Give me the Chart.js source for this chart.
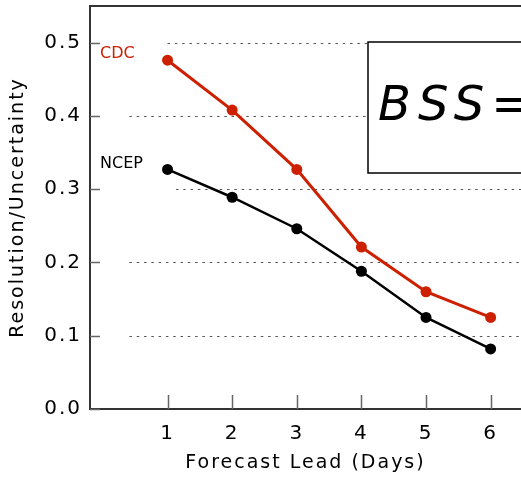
<!DOCTYPE html>
<html>
<head>
<meta charset="utf-8">
<script src="https://cdn.jsdelivr.net/npm/chart.js@4/dist/chart.umd.min.js"></script>
<style>
  html, body { margin: 0; padding: 0; background: #fff; }
  #wrap { width: 521px; height: 477px; position: relative; }
</style>
</head>
<body>
<div id="wrap"><canvas id="chartBss"></canvas></div>
<script>
// ====== DADOS ======
const leadDays = [1, 2, 3, 4, 5, 6];
const cdcValues = [0.476, 0.408, 0.327, 0.221, 0.160, 0.125];
const ncepValues = [0.327, 0.289, 0.246, 0.188, 0.125, 0.082];
const yTicks = [0.0, 0.1, 0.2, 0.3, 0.4, 0.5];
const dashLevels = [0.1, 0.2, 0.3, 0.4, 0.5];
const dashStartDay = [0.41, 0.41, 1.13, 0.41, 1.0]; // onde cada linha pontilhada comeca

const red = "#cc2000";
const axisColor = "#333";

Chart.defaults.font.family = "'DejaVu Sans', sans-serif";
Chart.defaults.color = "#000";

// linhas pontilhadas, ticks internos, moldura de cima, caixa BSS e rotulos
const decorPlugin = {
  id: "decor",
  beforeDraw(chart) {
    chart.ctx.letterSpacing = "2px";
  },
  beforeDatasetsDraw(chart) {
    const { ctx, chartArea, scales } = chart;
    const x = scales.x, y = scales.y;
    ctx.save();
    ctx.strokeStyle = "#555";
    ctx.lineWidth = 1;
    ctx.setLineDash([2.5, 4.8]);
    dashLevels.forEach((v, i) => {
      const py = Math.round(y.getPixelForValue(v)) + 0.5;
      ctx.beginPath();
      ctx.moveTo(x.getPixelForValue(dashStartDay[i]), py);
      ctx.lineTo(chartArea.right, py);
      ctx.stroke();
    });
    ctx.setLineDash([]);

    // ticks para dentro
    ctx.strokeStyle = "#666";
    ctx.lineWidth = 1.5;
    yTicks.forEach((v) => {
      const py = Math.round(y.getPixelForValue(v)) + 0.5;
      ctx.beginPath();
      ctx.moveTo(chartArea.left, py);
      ctx.lineTo(chartArea.left + 10, py);
      ctx.stroke();
    });
    leadDays.forEach((d) => {
      const px = Math.round(x.getPixelForValue(d)) + 0.5;
      ctx.beginPath();
      ctx.moveTo(px, chartArea.bottom);
      ctx.lineTo(px, chartArea.bottom - 14);
      ctx.stroke();
    });

    // moldura de cima
    ctx.strokeStyle = axisColor;
    ctx.lineWidth = 2;
    ctx.beginPath();
    ctx.moveTo(chartArea.left, chartArea.top);
    ctx.lineTo(chartArea.right, chartArea.top);
    ctx.stroke();
    ctx.restore();
  },
  afterDatasetsDraw(chart) {
    const { ctx, chartArea } = chart;
    ctx.save();
    ctx.letterSpacing = "0px";

    // caixa com a formula (cortada na borda)
    ctx.fillStyle = "#fff";
    ctx.strokeStyle = "#000";
    ctx.lineWidth = 1.5;
    ctx.fillRect(368, 42, 170, 131);
    ctx.strokeRect(368, 42, 170, 131);
    ctx.fillStyle = "#000";
    ctx.font = "italic 48px 'DejaVu Sans'";
    ctx.textBaseline = "alphabetic";
    ctx.letterSpacing = "7px";
    ctx.fillText("BSS=", 378, 120);

    // nomes das series
    ctx.letterSpacing = "0px";
    ctx.font = "16px 'DejaVu Sans'";
    ctx.textBaseline = "middle";
    ctx.fillStyle = red;
    ctx.fillText("CDC", chartArea.left + 10, 54);
    ctx.fillStyle = "#000";
    ctx.fillText("NCEP", chartArea.left + 10, 164);
    ctx.restore();
  },
};

const ctx = document.getElementById("chartBss");
new Chart(ctx, {
  type: "line",
  data: {
    labels: leadDays,
    datasets: [
      {
        label: "CDC",
        data: leadDays.map((d, i) => ({ x: d, y: cdcValues[i] })),
        borderColor: red,
        backgroundColor: red,
        borderWidth: 3,
        pointRadius: 5.5,
        pointBorderWidth: 0,
      },
      {
        label: "NCEP",
        data: leadDays.map((d, i) => ({ x: d, y: ncepValues[i] })),
        borderColor: "#000",
        backgroundColor: "#000",
        borderWidth: 2.5,
        pointRadius: 5.5,
        pointBorderWidth: 0,
      },
    ],
  },
  options: {
    responsive: true,
    maintainAspectRatio: false,
    animation: false,
    layout: { autoPadding: false, padding: { top: 6, right: 0, left: 0, bottom: 0 } },
    plugins: {
      legend: { display: false },
      tooltip: { enabled: false },
    },
    scales: {
      x: {
        type: "linear",
        min: -0.2,
        max: 6.47,
        afterBuildTicks: (s) => { s.ticks = leadDays.map((v) => ({ value: v })); },
        afterFit: (s) => { s.height = 68; s.paddingLeft = 0; s.paddingRight = 0; },
        grid: { drawOnChartArea: false, drawTicks: false },
        border: { color: axisColor, width: 2 },
        ticks: { font: { size: 20 }, padding: 13, color: "#000", maxRotation: 0 },
        title: {
          display: true,
          text: "Forecast Lead (Days)",
          font: { size: 19 },
          color: "#000",
          padding: { top: 0, bottom: 3 },
        },
      },
      y: {
        min: 0,
        max: 0.55,
        afterBuildTicks: (s) => { s.ticks = yTicks.map((v) => ({ value: v })); },
        afterFit: (s) => { s.width = 90; s.paddingTop = 0; s.paddingBottom = 0; },
        grid: { drawOnChartArea: false, drawTicks: false },
        border: { color: axisColor, width: 2 },
        ticks: {
          font: { size: 20 },
          padding: 8,
          color: "#000",
          callback: (v) => v.toFixed(1),
        },
        title: {
          display: true,
          text: "Resolution/Uncertainty",
          font: { size: 19 },
          color: "#000",
          padding: { top: 7, bottom: 0 },
        },
      },
    },
  },
  plugins: [decorPlugin],
});
</script>
</body>
</html>
